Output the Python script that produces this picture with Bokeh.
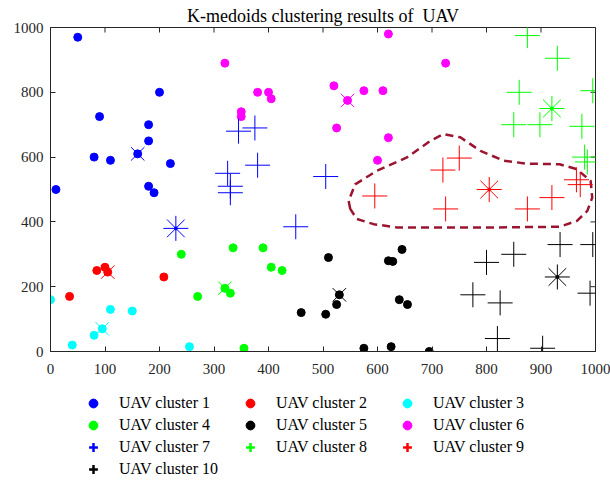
import math
from bokeh.plotting import figure
from bokeh.layouts import column
from bokeh.models import Range1d, LinearAxis, FixedTicker, Legend, LegendItem, Title
from bokeh.embed import file_html
from bokeh.resources import INLINE

# ---------------- data ----------------
# UAV cluster 1 (blue dots)
c1_x = [50, 200, 90, 80, 110, 160, 180, 180, 220, 10, 180, 190]
c1_y = [970, 800, 725, 600, 590, 610, 700, 650, 580, 500, 510, 490]
# UAV cluster 2 (red dots)
c2_x = [85, 100, 105, 35, 208]
c2_y = [250, 260, 245, 170, 230]
# UAV cluster 3 (cyan dots)
c3_x = [0, 110, 150, 95, 80, 40, 255]
c3_y = [160, 130, 125, 70, 50, 20, 15]
# UAV cluster 4 (green dots)
c4_x = [240, 335, 390, 405, 425, 270, 320, 330, 355]
c4_y = [300, 320, 320, 260, 250, 170, 195, 180, 10]
# UAV cluster 5 (black dots)
c5_x = [460, 510, 530, 525, 505, 620, 628, 645, 640, 655, 575, 625, 695]
c5_y = [120, 290, 175, 145, 115, 280, 278, 315, 160, 145, 10, 15, 0]
# UAV cluster 6 (magenta dots)
c6_x = [320, 380, 400, 405, 350, 350, 620, 725, 520, 545, 575, 610, 525, 620, 600]
c6_y = [890, 800, 800, 780, 740, 725, 980, 890, 820, 775, 805, 805, 690, 660, 590]
# UAV cluster 7 (blue plus)
c7_x = [345, 375, 380, 325, 330, 330, 450, 505]
c7_y = [680, 690, 575, 550, 510, 490, 385, 540]
# UAV cluster 8 (green plus)
c8_x = [875, 930, 860, 995, 850, 898, 975, 980, 985]
c8_y = [975, 905, 800, 805, 700, 700, 695, 600, 585]
# UAV cluster 9 (red plus)
c9_x = [595, 720, 750, 725, 875, 920, 972, 965]
c9_y = [480, 560, 597, 440, 440, 475, 515, 530]
# UAV cluster 10 (black plus)
c10_x = [800, 850, 935, 995, 775, 825, 990, 820, 903]
c10_y = [275, 300, 330, 330, 175, 150, 180, 40, 10]

# medoids of the dot clusters (1..6) and of the plus clusters (7..10)
dot_medoid_x = [160, 105, 95, 320, 530, 545]
dot_medoid_y = [610, 245, 70, 195, 175, 775]
plus_medoid_x = [230, 920, 805, 930]
plus_medoid_y = [380, 750, 500, 230]

# highlighted region (dashed boundary)
region_x = [550, 547, 559, 599, 654, 697, 721, 752, 789, 832, 873, 934, 965, 991,
            994, 985, 966, 934, 819, 636, 593, 562, 550]
region_y = [440, 465, 516, 558, 599, 650, 671, 661, 619, 589, 580, 578, 563, 527,
            475, 434, 403, 385, 383, 383, 393, 409, 440]

labels = ["UAV cluster %d" % i for i in range(1, 11)]
colors = ["#0000ff", "#ff0000", "#00ffff", "#00ff00", "#000000", "#ff00ff",
          "#0000ff", "#00ff00", "#ff0000", "#000000"]
x_ticks = [0, 100, 200, 300, 400, 500, 600, 700, 800, 900, 1000]
y_ticks = [0, 200, 400, 600, 800, 1000]

FONT = "Liberation Serif"
AX = "#262626"

# ---------------- main plot ----------------
p = figure(width=610, height=382, x_range=Range1d(0, 1000), y_range=Range1d(0, 1000),
           output_backend="svg", toolbar_location=None,
           x_axis_type=None, y_axis_type=None)
p.min_border_left = 50
p.min_border_right = 15
p.min_border_top = 27
p.min_border_bottom = 31
p.xgrid.visible = False
p.ygrid.visible = False
p.outline_line_color = AX
p.background_fill_color = "white"
p.border_fill_color = "white"

def make_axis(ticks, standoff):
    ax = LinearAxis(ticker=FixedTicker(ticks=ticks, minor_ticks=[]))
    ax.major_tick_in = 5
    ax.major_tick_out = 0
    ax.minor_tick_in = 0
    ax.minor_tick_out = 0
    ax.axis_line_color = AX
    ax.major_tick_line_color = AX
    ax.major_label_text_font = FONT
    ax.major_label_text_font_size = "15px"
    ax.major_label_text_color = AX
    ax.major_label_standoff = standoff
    return ax

p.add_layout(make_axis(x_ticks, 12), "below")
p.add_layout(make_axis(y_ticks, 7), "left")

# mirrored inward ticks on the top and right edges of the box
p.ray(x=x_ticks, y=[1000] * len(x_ticks), length=5, angle=-math.pi / 2,
      length_units="screen", line_color=AX, line_width=1)
p.ray(x=[1000] * len(y_ticks), y=y_ticks, length=5, angle=math.pi,
      length_units="screen", line_color=AX, line_width=1)

title = Title(text="K-medoids clustering results of \u00a0UAV", align="center",
              text_font=FONT, text_font_size="18px", text_font_style="normal",
              text_color="#000000", standoff=4, text_line_height=1.0)
p.add_layout(title, "above")

# dashed region
p.line(region_x, region_y, line_color="#9c1530", line_width=2.5, line_dash="8 5",
       line_join="round")

dot_sets = [(c1_x, c1_y), (c2_x, c2_y), (c3_x, c3_y), (c4_x, c4_y), (c5_x, c5_y), (c6_x, c6_y)]
plus_sets = [(c7_x, c7_y), (c8_x, c8_y), (c9_x, c9_y), (c10_x, c10_y)]

for i, (xs, ys) in enumerate(dot_sets):
    p.scatter(xs, ys, marker="circle", size=8, color=colors[i])
for i, (xs, ys) in enumerate(plus_sets):
    p.scatter(xs, ys, marker="cross", size=25, line_color=colors[6 + i], line_width=1)

# medoid markers
for i in range(6):
    p.scatter([dot_medoid_x[i]], [dot_medoid_y[i]], marker="x", size=19,
              line_color=colors[i], line_width=1)
for i in range(4):
    p.scatter([plus_medoid_x[i]], [plus_medoid_y[i]], marker="asterisk", size=25,
              line_color=colors[6 + i], line_width=1)
    p.scatter([plus_medoid_x[i]], [plus_medoid_y[i]], marker="circle", size=3,
              color=colors[6 + i])

# ---------------- legend strip ----------------
lf = figure(width=610, height=100, x_range=Range1d(0, 1), y_range=Range1d(0, 1),
            output_backend="svg", toolbar_location=None,
            x_axis_type=None, y_axis_type=None, min_border=0)
lf.outline_line_color = None
lf.grid.visible = False
lf.background_fill_color = "white"
lf.border_fill_color = "white"

all_x = [c1_x, c2_x, c3_x, c4_x, c5_x, c6_x, c7_x, c8_x, c9_x, c10_x]
all_y = [c1_y, c2_y, c3_y, c4_y, c5_y, c6_y, c7_y, c8_y, c9_y, c10_y]
renderers = []
for i in range(10):
    # proxy glyphs for the legend; their data lie outside this strip's ranges
    if i < 6:
        r = lf.scatter(all_x[i][:1], all_y[i][:1], marker="circle", size=11, color=colors[i])
    else:
        r = lf.scatter(all_x[i][:1], all_y[i][:1], marker="cross", size=15,
                       line_color=colors[i], line_width=2.5)
    renderers.append(r)

items = [LegendItem(label=labels[k], renderers=[renderers[k]]) for k in range(10)]

legend = Legend(items=items, ncols=3, orientation="horizontal", location=(32, 2),
                glyph_width=22, glyph_height=22, label_width=120, label_height=22,
                label_standoff=15, spacing=0, padding=0, margin=0,
                border_line_color=None, background_fill_alpha=0,
                label_text_font=FONT, label_text_font_size="16px",
                label_text_color="#000000")
lf.add_layout(legend)

layout = column(p, lf, spacing=0)
open("out.html", "w").write(file_html(layout, INLINE))
